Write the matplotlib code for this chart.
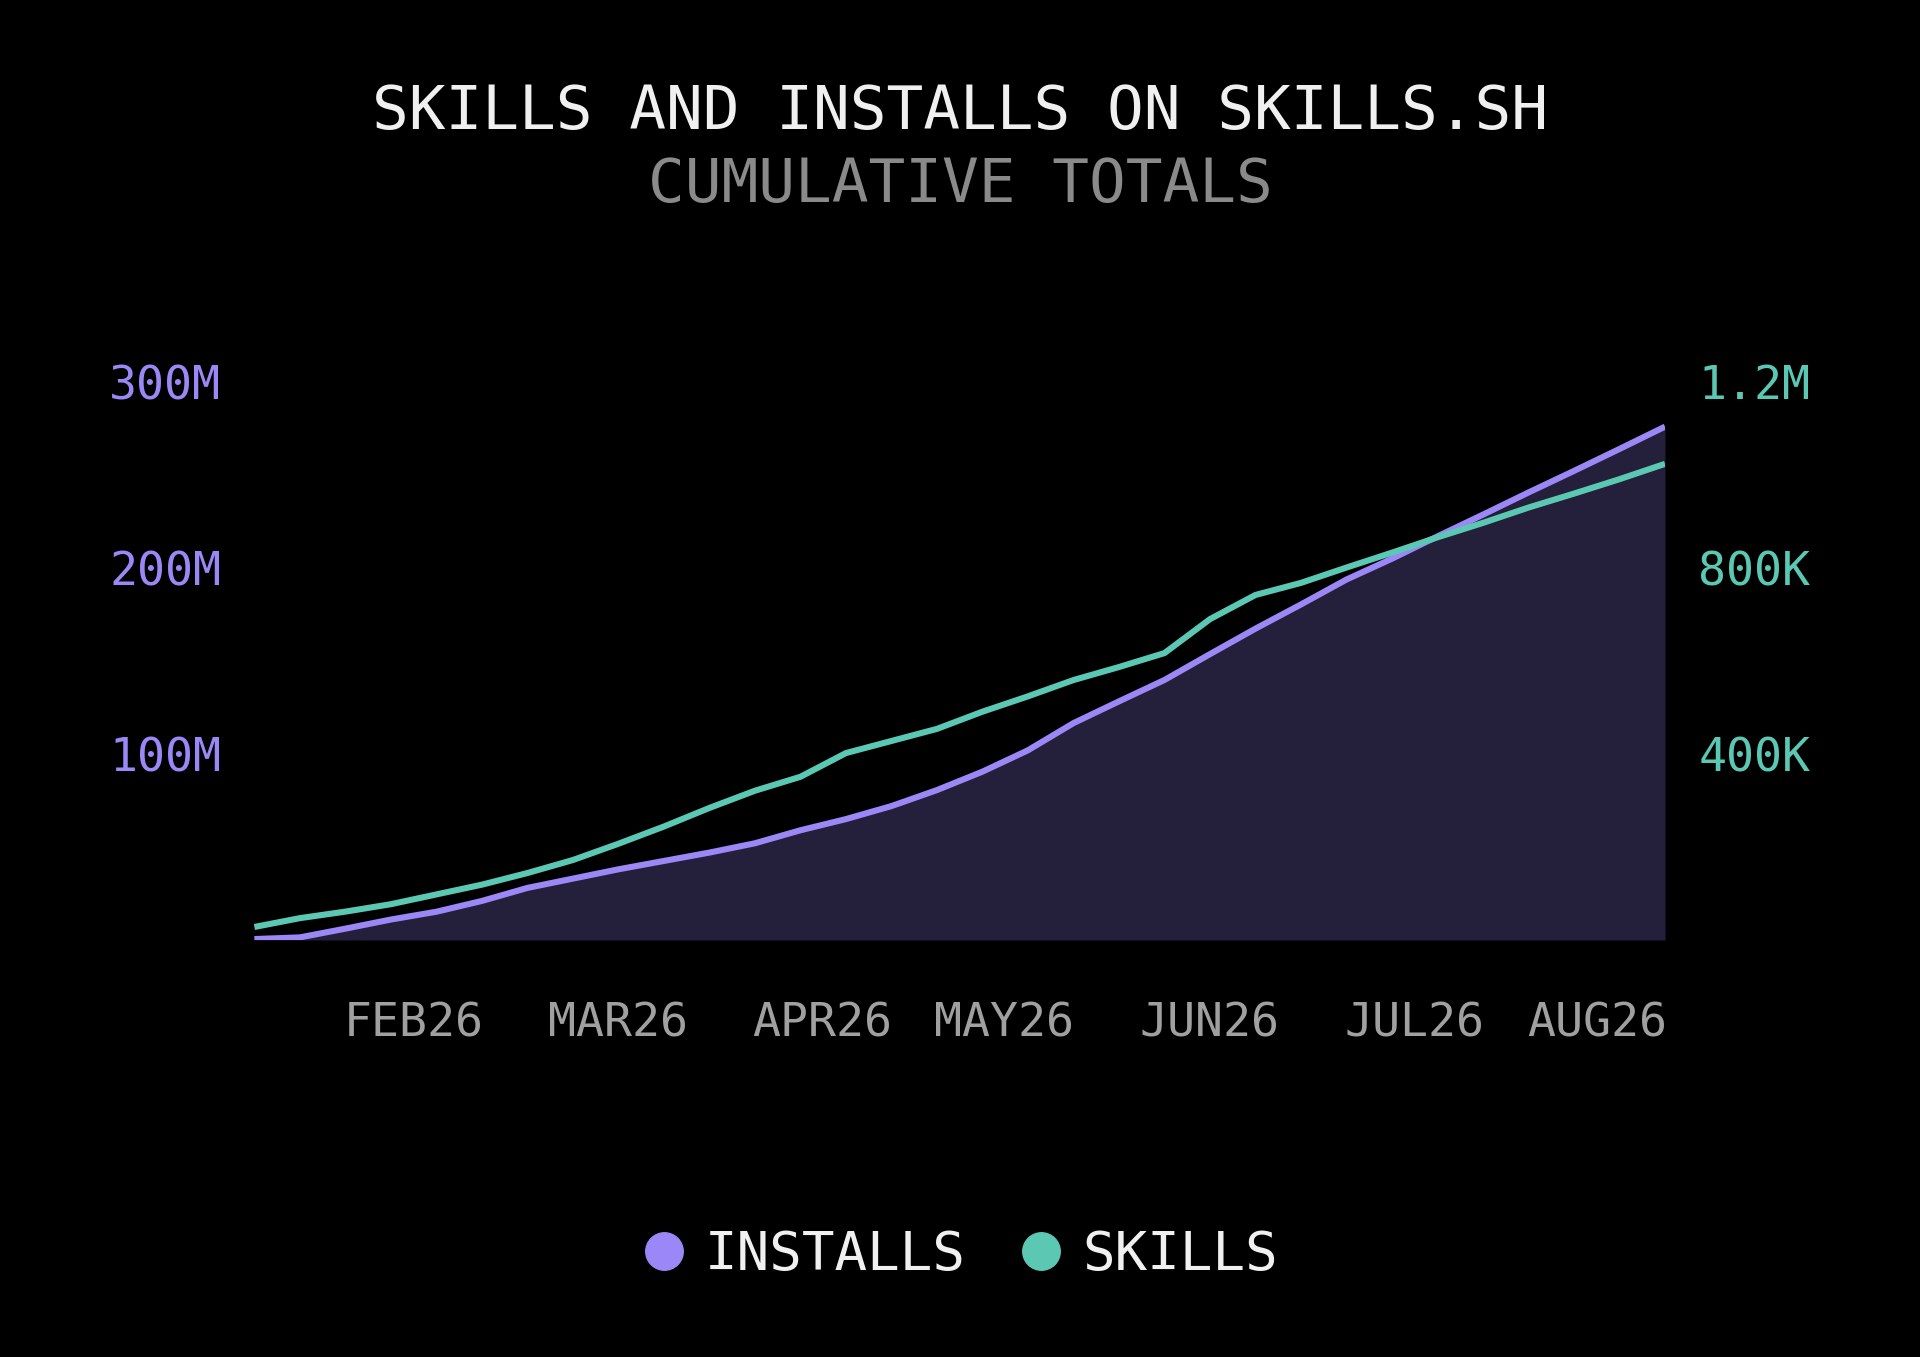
import matplotlib
matplotlib.use('Agg')
import matplotlib.pyplot as plt
from matplotlib.lines import Line2D
from matplotlib.ticker import FuncFormatter

plt.rcParams['font.family'] = ['DejaVu Sans Mono', 'DejaVu Sans']

# weekly cumulative totals
weeks = list(range(32))
installs = [0.5, 1.4, 6.1, 11.0, 15.2, 21.0, 28.0, 33.0, 38.0, 42.5, 47.0, 52.0,
            59.0, 65.0, 72.0, 80.6, 90.5, 102.0, 116.6, 128.3, 139.8, 153.7, 167.4,
            180.4, 193.8, 205.0, 217.0, 228.7, 240.6, 252.2, 264.0, 276.0]  # millions
skills = [28, 47, 61, 77, 98, 119, 144, 172, 207, 244, 284, 321, 351, 402, 428, 454,
          491, 524, 559, 587, 617, 690, 742, 768, 801, 833, 866, 897, 930, 960, 991,
          1024]  # thousands

month_labels = ['FEB26', 'MAR26', 'APR26', 'MAY26', 'JUN26', 'JUL26', 'AUG26']
month_pos = [3.5, 7.98, 12.47, 16.47, 21.0, 25.5, 29.5]

purple = '#9b87f5'
teal = '#5bc8b4'
fill_col = '#241f3a'
bg = '#000000'

fig = plt.figure(figsize=(19.2, 13.57), dpi=100, facecolor=bg)
ax = fig.add_axes([0.1325, 0.3073, 0.7347, 0.4112])
ax.set_facecolor(bg)

inst = [v * 1e6 for v in installs]
ax.fill_between(weeks, inst, 0, color=fill_col, linewidth=0)
ax.plot(weeks, inst, color=purple, linewidth=4.4, solid_capstyle='butt')
ax.set_xlim(0, 31)
ax.set_ylim(0, 300e6)
ax.set_yticks([100e6, 200e6, 300e6])
ax.yaxis.set_major_formatter(FuncFormatter(lambda v, p: f'{int(v / 1e6)}M'))
ax.tick_params(axis='y', length=0, pad=24, labelsize=33.5, labelcolor=purple)
ax.set_xticks(month_pos)
ax.set_xticklabels(month_labels)
ax.tick_params(axis='x', length=0, pad=44, labelsize=33.5, labelcolor='#a0a0a0')
for s in ax.spines.values():
    s.set_visible(False)

ax2 = ax.twinx()
ax2.plot(weeks, [v * 1e3 for v in skills], color=teal, linewidth=4.4,
         solid_capstyle='butt')
ax2.set_ylim(0, 1.2e6)
ax2.set_yticks([400e3, 800e3, 1200e3])
ax2.set_yticklabels(['400K', '800K', '1.2M'])
ax2.tick_params(axis='y', length=0, pad=24, labelsize=33.5, labelcolor=teal)
for s in ax2.spines.values():
    s.set_visible(False)

fig.text(0.5, 1 - 129 / 1357, 'SKILLS AND INSTALLS ON SKILLS.SH', ha='center',
         va='baseline', fontsize=44, color='#f0f0f0')
fig.text(0.5, 1 - 202 / 1357, 'CUMULATIVE TOTALS', ha='center', va='baseline',
         fontsize=44, color='#8a8a8a')

handles = [Line2D([], [], marker='o', linestyle='', markersize=27, color=purple),
           Line2D([], [], marker='o', linestyle='', markersize=27, color=teal)]
fig.legend(handles, ['INSTALLS', 'SKILLS'], loc='center',
           bbox_to_anchor=(0.5, 1 - 1255 / 1357), ncol=2, frameon=False,
           fontsize=39, labelcolor='#f0f0f0', handlelength=0.8,
           handletextpad=0.35, columnspacing=1.0)

fig.savefig('out.png', dpi=100, facecolor=bg)
